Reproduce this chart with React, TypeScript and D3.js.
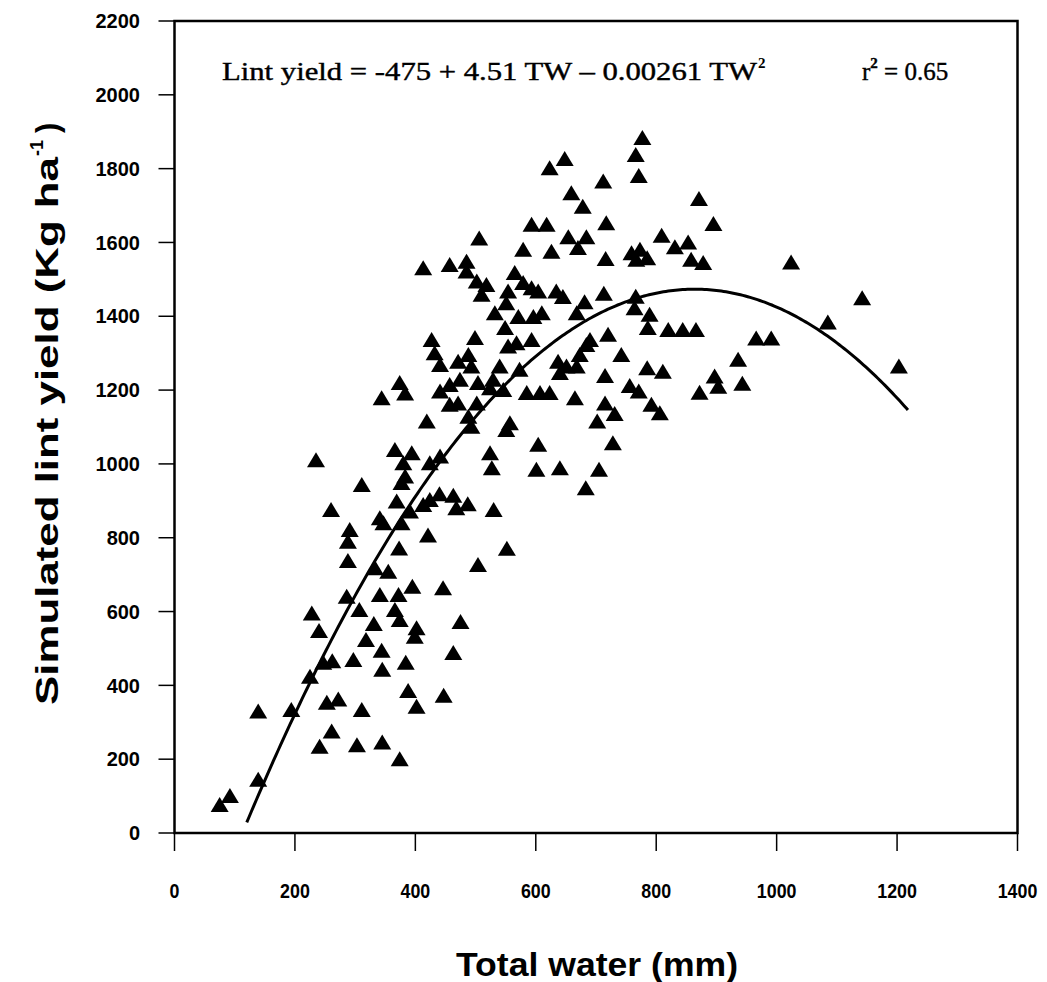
import React from 'react';
import * as d3 from 'd3';

// Total water (mm) and simulated lint yield (kg/ha)
const totalWater = [
  75, 92, 139, 139, 194, 253, 272, 311, 261, 241, 303, 345, 374, 388, 402, 447,
  311, 377, 260, 291, 288, 288, 369, 341, 347, 377, 391, 413, 424, 440, 463, 468, 487, 421, 373, 333, 355, 286, 341, 372, 395, 446, 228, 240, 307, 331, 366, 374, 402, 399, 318, 344, 475, 463, 297, 247, 262, 345, 384, 225,
  506, 579, 626, 654, 684, 670, 413, 457, 485, 485, 502, 518, 510, 565, 579, 593, 604, 554, 551, 532, 571, 596, 610, 549, 634, 645, 681, 668, 427, 499, 432, 441, 471, 488, 493, 474, 504, 457, 441, 374, 383, 344, 457, 471, 419, 524, 546, 554, 568, 593, 573, 540, 529, 585, 607, 623, 665, 637, 640, 673, 684, 690, 668, 557, 551, 488, 493, 502, 604, 366, 394, 380, 383, 424, 441, 524, 527, 601, 640,
  623, 648, 712, 659, 678, 593, 618, 717, 777, 766, 771, 871, 895, 716, 809, 831, 853, 858, 878, 759, 773, 785, 767, 1024, 713, 766, 764, 789, 786, 820, 844, 866, 720, 966, 991,
  742, 936, 651, 785, 811, 715, 897, 903, 872, 943, 756, 771, 792, 806, 715, 731, 702, 728, 705, 683,
  1142, 1085, 1203, 530, 552, 504, 235,
];
const lintYield = [
  76, 100, 144, 329, 333, 353, 362, 333, 275, 234, 238, 245, 200, 385, 342, 372,
  943, 948, 875, 821, 789, 737, 898, 853, 839, 839, 871, 889, 902, 918, 914, 880, 891, 806, 771, 717, 708, 640, 645, 645, 667, 663, 595, 547, 604, 566, 604, 577, 555, 532, 523, 494, 572, 488, 469, 461, 465, 442, 461, 423,
  1611, 1580, 1575, 1614, 1614, 1585, 1530, 1539, 1548, 1521, 1494, 1485, 1458, 1517, 1490, 1476, 1467, 1467, 1435, 1408, 1398, 1398, 1408, 1368, 1467, 1452, 1438, 1408, 1336, 1341, 1300, 1268, 1277, 1295, 1264, 1228, 1219, 1214, 1196, 1219, 1191, 1178, 1160, 1164, 1115, 1205, 1200, 1318, 1327, 1336, 1255, 1264, 1228, 1192, 1192, 1192, 1178, 1277, 1246, 1295, 1322, 1336, 1264, 1110, 1092, 1128, 1101, 1164, 1052, 1038, 1029, 1002, 966, 1002, 1020, 1029, 988, 984, 988,
  1801, 1826, 1765, 1733, 1697, 1648, 1648, 1652, 1883, 1837, 1780, 1718, 1650, 1555, 1618, 1587, 1600, 1553, 1544, 1571, 1580, 1557, 1553, 1546, 1461, 1453, 1422, 1404, 1368, 1363, 1363, 1363, 1350, 1340, 1340,
  1295, 1282, 1264, 1259, 1250, 1238, 1237, 1209, 1193, 1217, 1211, 1196, 1160, 1137, 1164, 1135, 1115, 1056, 984, 934,
  1449, 1383, 1264, 875, 770, 726, 1010,
];

const xTicks = [0, 200, 400, 600, 800, 1000, 1200, 1400];
const yTicks = [0, 200, 400, 600, 800, 1000, 1200, 1400, 1600, 1800, 2000, 2200];
const fitCoef = [-475, 4.51, -0.00261];
const fitRange = [120, 1218];

export default function App() {
  const x = d3.scaleLinear().domain([0, 1400]).range([174.5, 1017.5]);
  const y = d3.scaleLinear().domain([0, 2200]).range([833, 21]);

  const fit = (w: number) => fitCoef[0] + fitCoef[1] * w + fitCoef[2] * w * w;
  const curveX = d3.range(fitRange[0], fitRange[1], 4).concat([fitRange[1]]);
  const line = d3
    .line<number>()
    .x((d) => x(d))
    .y((d) => y(fit(d)))
    .curve(d3.curveLinear);

  const tri = (cx: number, cy: number) =>
    `M${cx},${cy - 8}L${cx + 9},${cy + 7}L${cx - 9},${cy + 7}Z`;

  const bold = "'Liberation Sans', Arial, sans-serif";
  const serif = "'Liberation Serif', 'Times New Roman', serif";

  return (
    <svg
      width={1047}
      height={982}
      style={{ position: 'absolute', left: 0, top: 0, background: '#fff' }}
    >
      <rect x={0} y={0} width={1047} height={982} fill="#fff" />
      {/* frame */}
      <rect
        x={x(0)}
        y={y(2200)}
        width={x(1400) - x(0)}
        height={y(0) - y(2200)}
        fill="none"
        stroke="#000"
        strokeWidth={2.5}
      />
      {/* y ticks */}
      {yTicks.map((t) => (
        <g key={'y' + t}>
          <line x1={x(0) - 16} x2={x(0)} y1={y(t)} y2={y(t)} stroke="#000" strokeWidth={1.5} />
          <text
            x={140}
            y={y(t)}
            dy="0.36em"
            textAnchor="end"
            fontFamily={bold}
            fontWeight="bold"
            fontSize={20}
          >
            {t}
          </text>
        </g>
      ))}
      {/* x ticks */}
      {xTicks.map((t) => (
        <g key={'x' + t}>
          <line x1={x(t)} x2={x(t)} y1={y(0)} y2={y(0) + 18} stroke="#000" strokeWidth={1.5} />
          <text
            x={x(t)}
            y={898}
            textAnchor="middle"
            fontFamily={bold}
            fontWeight="bold"
            fontSize={21}
            transform={`translate(${x(t)},0) scale(0.85,1) translate(${-x(t)},0)`}
          >
            {t}
          </text>
        </g>
      ))}
      {/* fitted curve */}
      <path d={line(curveX) || ''} fill="none" stroke="#000" strokeWidth={3} />
      {/* points */}
      {totalWater.map((w, i) => (
        <path key={'p' + i} d={tri(x(w), y(lintYield[i]))} fill="#000" />
      ))}
      {/* equation */}
      <text
        x={222}
        y={80}
        fontFamily={serif}
        fontSize={25}
        stroke="#000"
        strokeWidth={0.4}
        textLength={535}
        lengthAdjust="spacingAndGlyphs"
      >
        Lint yield = -475 + 4.51 TW – 0.00261 TW
      </text>
      <text x={758} y={68} fontFamily={serif} fontWeight="bold" fontSize={15}>
        2
      </text>
      <text
        x={862}
        y={80}
        fontFamily={serif}
        fontSize={25}
        stroke="#000"
        strokeWidth={0.4}
      >
        r<tspan dy={-12} fontSize={15} fontWeight="bold">2</tspan>
        <tspan dy={12}> = 0.65</tspan>
      </text>
      {/* axis titles */}
      <text
        x={597}
        y={976}
        textAnchor="middle"
        fontFamily={bold}
        fontWeight="bold"
        fontSize={34}
        textLength={282}
        lengthAdjust="spacingAndGlyphs"
      >
        Total water (mm)
      </text>
      <g transform="translate(58,409) rotate(-90)">
        <text
          x={-296}
          y={0}
          fontFamily={bold}
          fontWeight="bold"
          fontSize={31}
          textLength={548}
          lengthAdjust="spacingAndGlyphs"
        >
          Simulated lint  yield  (Kg  ha
        </text>
        <text x={253} y={-15} fontFamily={bold} fontWeight="bold" fontSize={18}>
          -1
        </text>
        <text x={276} y={0} fontFamily={bold} fontWeight="bold" fontSize={31}>
          )
        </text>
      </g>
    </svg>
  );
}
